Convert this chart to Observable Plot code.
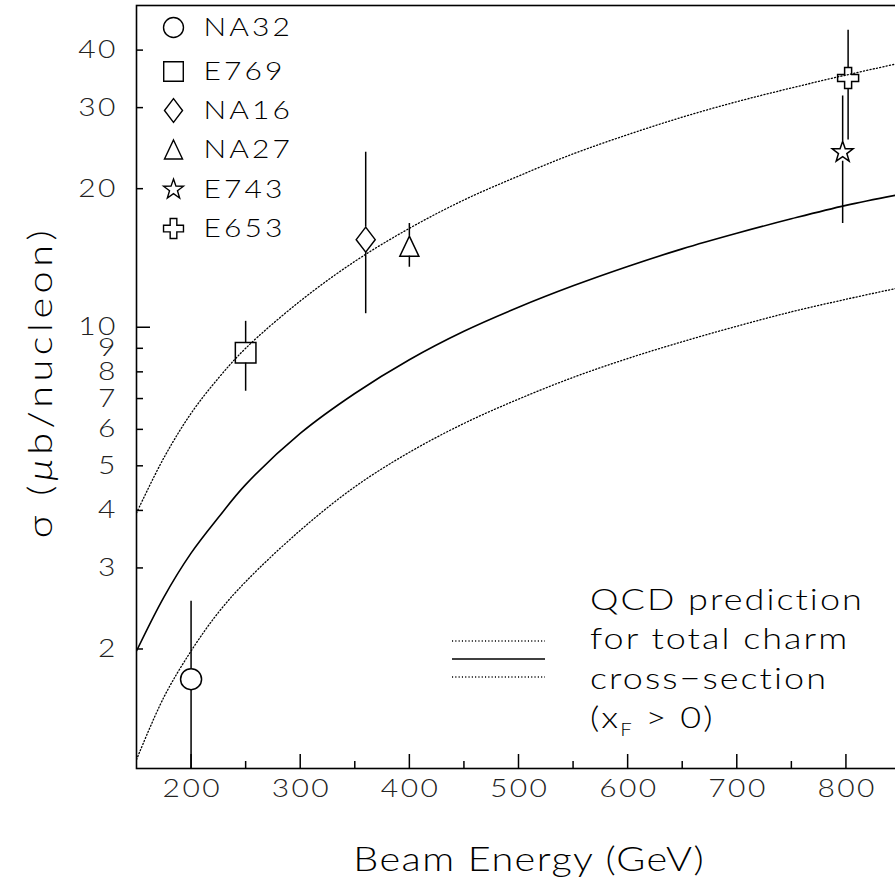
<!DOCTYPE html>
<html><head><meta charset="utf-8">
<script src="https://cdn.jsdelivr.net/npm/d3@7"></script>
<script src="https://cdn.jsdelivr.net/npm/@observablehq/plot@0.6"></script>
<style>
body{margin:0;background:#fff;}
#chart svg{font-family: Lato, "DejaVu Sans", sans-serif; font-weight:300; overflow:hidden;}
</style>
</head><body><div id="chart"></div>
<script>
// ---- data ----
const experiments = ["NA32", "E769", "NA16", "NA27", "E743", "E653"];
const beamEnergy  = [200, 250, 360, 400, 797, 802];
const sigma       = [1.72, 8.8, 15.5, 15.0, 24.0, 34.8];
const sigmaLow    = [1.0, 7.26, 10.7, 13.5, 16.8, 25.5];
const sigmaHigh   = [2.54, 10.3, 24.0, 16.8, 31.8, 44.2];

const curveEnergy = [150, 175, 200, 225, 250, 300, 350, 400, 450, 500, 550, 600, 650, 700, 750, 800, 850];
const qcdCentral  = [1.98, 2.59, 3.23, 3.86, 4.55, 5.88, 7.18, 8.5, 9.8, 11.05, 12.3, 13.55, 14.8, 16.0, 17.2, 18.4, 19.45];
const qcdUpper    = [3.95, 5.2, 6.5, 7.75, 9.0, 11.4, 13.9, 16.4, 18.9, 21.3, 23.8, 26.2, 28.6, 30.9, 33.1, 35.3, 37.5];
const qcdLower    = [1.15, 1.57, 1.98, 2.4, 2.8, 3.62, 4.5, 5.35, 6.18, 6.98, 7.78, 8.55, 9.3, 10.05, 10.8, 11.5, 12.2];

const yTickLabels = [2, 3, 4, 5, 6, 7, 8, 9, 10, 20, 30, 40];
const yTicksMajor = [10];
const yTicksMinor = [2, 3, 4, 5, 6, 7, 8, 9, 20, 30, 40];
const xTickLabels = [200, 300, 400, 500, 600, 700, 800];
const xTicksMinor = [250, 350, 450, 550, 650, 750, 850];

const xTitle = "Beam Energy (GeV)";
const qcdLines = ["QCD prediction", "for total charm", "cross\u2212section"];

// ---- styles ----
const SX = 1.2;        // horizontal stretch of the wide reference font
const rOf = s => Math.sqrt(s / Math.PI);
const symbols = {
  circle: {draw(c, s) { const r = rOf(s); c.moveTo(r, 0); c.arc(0, 0, r, 0, 2 * Math.PI); }},
  square: {draw(c, s) { const r = rOf(s); c.rect(-r, -r, 2 * r, 2 * r); }},
  diamond: {draw(c, s) { const r = rOf(s); c.moveTo(0, -r); c.lineTo(0.76 * r, 0); c.lineTo(0, r); c.lineTo(-0.76 * r, 0); c.closePath(); }},
  triangle: {draw(c, s) { const r = rOf(s); c.moveTo(0, -r); c.lineTo(0.95 * r, r); c.lineTo(-0.95 * r, r); c.closePath(); }},
  star: {draw(c, s) { const R = rOf(s), ri = 0.4 * R;
    for (let i = 0; i < 10; i++) { const a = -Math.PI / 2 + i * Math.PI / 5, rr = i % 2 ? ri : R;
      const px = rr * Math.cos(a), py = rr * Math.sin(a); i ? c.lineTo(px, py) : c.moveTo(px, py); }
    c.closePath(); }},
  cross: {draw(c, s) { const r = rOf(s), a = r / 3;
    c.moveTo(-a, -r); c.lineTo(a, -r); c.lineTo(a, -a); c.lineTo(r, -a); c.lineTo(r, a); c.lineTo(a, a);
    c.lineTo(a, r); c.lineTo(-a, r); c.lineTo(-a, a); c.lineTo(-r, a); c.lineTo(-r, -a); c.lineTo(-a, -a); c.closePath(); }}
};
const expStyle = {
  NA32: {symbol: symbols.circle, r: 10.5, up: 10.5, down: 10.5},
  E769: {symbol: symbols.square, r: 10.3, up: 10.3, down: 10.3},
  NA16: {symbol: symbols.diamond, r: 12.5, up: 12.5, down: 12.5},
  NA27: {symbol: symbols.triangle, r: 10, up: 10, down: 10},
  E743: {symbol: symbols.star, r: 11, up: 11, down: 9},
  E653: {symbol: symbols.cross, r: 10.5, up: 10.5, down: 10.5}
};
const legendRowY = [27, 71, 110, 149, 189, 228];
const FS = 25;
const TICK_LS = 2;     // letter spacing (px, before stretch) of tick labels
const LEG_LS = 2.6;    // legend names
const XT_LS = 1.2;     // x title
const YT_LS = 3.8;     // y title
const QCD_LS = 1.7;    // QCD legend text

const points = experiments.map((name, i) => ({name, e: beamEnergy[i], s: sigma[i], lo: sigmaLow[i], hi: sigmaHigh[i]}));
const curves = curveEnergy.map((e, i) => ({e, c: qcdCentral[i], u: qcdUpper[i], l: qcdLower[i]}));

const marks = [];
// curves
marks.push(Plot.line(curves, {x: "e", y: "u", stroke: "black", strokeWidth: 1.3, strokeDasharray: "1.1,2.2", clip: true, curve: "catmull-rom"}));
marks.push(Plot.line(curves, {x: "e", y: "l", stroke: "black", strokeWidth: 1.3, strokeDasharray: "1.1,2.2", clip: true, curve: "catmull-rom"}));
marks.push(Plot.line(curves, {x: "e", y: "c", stroke: "black", strokeWidth: 1.6, clip: true, curve: "catmull-rom"}));
// data points with split error bars
for (const p of points) {
  const st = expStyle[p.name];
  marks.push(Plot.ruleX([p], {x: "e", y1: "hi", y2: "s", insetBottom: st.up, stroke: "black", strokeWidth: 1.5, clip: true}));
  marks.push(Plot.ruleX([p], {x: "e", y1: "s", y2: "lo", insetTop: st.down, stroke: "black", strokeWidth: 1.5, clip: true}));
  marks.push(Plot.dot([p], {x: "e", y: "s", symbol: st.symbol, r: st.r, stroke: "black", strokeWidth: 1.5, fill: "none"}));
}
// axes (ticks inward)
marks.push(Plot.axisY(yTicksMinor, {anchor: "left", tickSize: -7, tickFormat: () => "", label: null, strokeWidth: 1.5}));
marks.push(Plot.axisY(yTicksMajor, {anchor: "left", tickSize: -14, tickFormat: () => "", label: null, strokeWidth: 1.5}));
marks.push(Plot.axisY(yTickLabels, {anchor: "left", tickSize: 0, tickPadding: 21 - TICK_LS * SX, tickFormat: d => String(d), label: null, fontSize: FS, fill: "#222"}));
marks.push(Plot.axisX(xTicksMinor, {anchor: "bottom", tickSize: -7, tickFormat: () => "", label: null, strokeWidth: 1.5}));
marks.push(Plot.axisX(xTickLabels, {anchor: "bottom", tickSize: -14, tickFormat: () => "", label: null, strokeWidth: 1.5}));
marks.push(Plot.axisX(xTickLabels, {anchor: "bottom", tickSize: 0, tickPadding: 11, dx: TICK_LS * SX / 2, tickFormat: d => String(d), label: null, fontSize: FS, fill: "#222"}));
marks.push(Plot.frame({stroke: "black", strokeWidth: 1.6}));
// experiment legend
experiments.forEach((name, i) => {
  const st = expStyle[name];
  marks.push(Plot.dot([name], {frameAnchor: "top-left", dx: 37, dy: legendRowY[i] - 5, symbol: st.symbol, r: st.r * 0.95, stroke: "black", strokeWidth: 1.4, fill: "none"}));
  marks.push(Plot.text([name], {frameAnchor: "top-left", dx: 67, dy: legendRowY[i] - 5, textAnchor: "start", lineAnchor: "middle", fontSize: FS, fill: "black"}));
});
// x title
marks.push(Plot.text([xTitle], {frameAnchor: "bottom", dx: 10 + XT_LS * SX / 2, dy: 92, lineAnchor: "middle", fontSize: 33, fill: "black"}));
// y title + QCD legend (custom render)
marks.push(() => {
  const g = d3.create("svg:g");
  const yt = g.append("text").attr("transform", `translate(40,382) rotate(-90) scale(${SX},1)`)
    .attr("text-anchor", "middle").attr("dy", "0.35em").attr("font-size", 33).attr("fill", "black")
    .style("letter-spacing", YT_LS + "px");
  yt.append("tspan").text("\u03c3 (");
  yt.append("tspan").attr("font-style", "italic").text("\u03bc");
  yt.append("tspan").text("b/nucleon)");
  const lines = [{y: 641, dash: "1.1,2.2", w: 1.3}, {y: 659, dash: null, w: 1.6}, {y: 677, dash: "1.1,2.2", w: 1.3}];
  for (const l of lines) {
    g.append("line").attr("x1", 452).attr("x2", 545).attr("y1", l.y).attr("y2", l.y)
      .attr("stroke", "black").attr("stroke-width", l.w).attr("stroke-dasharray", l.dash);
  }
  const rows = [599, 638.5, 678, 717.5];
  const mk = i => g.append("text").attr("transform", `translate(590,${rows[i]}) scale(${SX},1)`).attr("dy", "0.35em")
    .attr("text-anchor", "start").style("letter-spacing", QCD_LS + "px").attr("font-size", 30).attr("fill", "black");
  qcdLines.forEach((t, i) => mk(i).text(t));
  const last = mk(3);
  last.append("tspan").text("(x");
  last.append("tspan").attr("font-size", 17).attr("dy", "0.45em").text("F");
  last.append("tspan").attr("dy", "-0.27em").text(" > 0)");
  return g.node();
});

const chart = Plot.plot({
  width: 895, height: 888,
  marginLeft: 136, marginRight: -5, marginTop: 5, marginBottom: 120,
  x: {domain: [150, 850], axis: null},
  y: {type: "log", domain: [1.1, 50], axis: null},
  style: {background: "white", color: "black"},
  marks
});
document.getElementById("chart").append(chart);
// the reference font is wide: stretch Plot-made texts horizontally
function stretch(t, ls) {
  t.style.letterSpacing = ls + "px";
  const tr = t.getAttribute("transform") || "";
  t.setAttribute("transform", tr + ` scale(${SX},1)`);
}
chart.querySelectorAll('g[aria-label$="tick label"] text').forEach(t => stretch(t, TICK_LS));
chart.querySelectorAll('g[aria-label="text"] text').forEach(t => stretch(t, t.textContent === xTitle ? XT_LS : LEG_LS));
</script>
</body></html>
